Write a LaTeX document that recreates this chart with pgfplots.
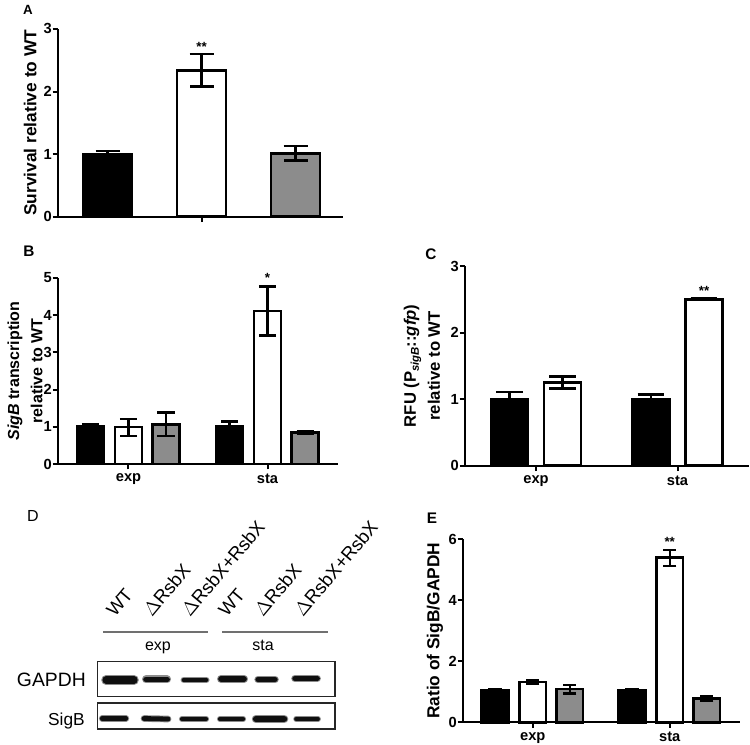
\documentclass[border=0pt]{standalone}
\usepackage{pgfplots}
\pgfplotsset{compat=1.18}
\usepackage{fontspec}
\setmainfont{Liberation Sans}
\definecolor{barGray}{RGB}{140,140,140}
\definecolor{lineGray}{RGB}{112,112,112}
\definecolor{band}{RGB}{15,15,15}
\pgfplotsset{
  panel/.style={
    scale only axis, axis x line=bottom, axis y line=left,
    axis line style={-, line width=1.5pt},
    tick style={line width=1.5pt, black}, tick align=outside, major tick length=4pt,
    ymin=0, ybar, clip=false,
    /pgf/number format/assume math mode=true,
    yticklabel={\pgfmathprintnumber{\tick}},
    yticklabel style={font=\fontsize{11}{12}\selectfont\bfseries, inner sep=0.5pt},
    xticklabel style={font=\fontsize{11}{12}\selectfont\bfseries},
    ylabel style={align=center, anchor=center},
    error bars/y dir=both, error bars/y explicit,
    error bars/error bar style={line width=1.8pt, black},
    error bars/error mark=|,
  },
  bk/.style={fill=black, draw=black, line width=2pt, bar shift=0pt},
  wh/.style={fill=white, draw=black, line width=2pt, bar shift=0pt},
  gr/.style={fill=barGray, draw=black, line width=2pt, bar shift=0pt},
  cap/.style={error bars/error mark options={line width=1.8pt, black, mark size=#1}},
  halo/.style={black!45, line width=#1, line cap=round, forget plot},
  core/.style={band, line width=#1, line cap=round, forget plot},
}
\newcommand{\stars}{\fontsize{10}{11}\selectfont\bfseries}
\begin{document}
\begin{tikzpicture}
\useasboundingbox (0,0) rectangle (562.5pt,-558pt);

% ---------------- Panel A
\begin{axis}[panel, at={(43.5pt,-162.5pt)}, anchor=south west,
  width=213.75pt, height=140.8pt, xmin=-0.527, xmax=2.505, ymax=3,
  ytick={0,1,2,3}, xtick={1}, xticklabels={}, bar width=0.52,
  ylabel={Survival relative to WT},
  ylabel style={at={(axis description cs:-0.098,0.5)}, font=\fontsize{13}{15}\selectfont\bfseries}, cap=9pt]
\addplot[bk] coordinates {(0,1.00) +- (0,0.05)};
\addplot[wh] coordinates {(1,2.34) +- (0,0.26)};
\addplot[gr] coordinates {(2,1.01) +- (0,0.115)};
\node[anchor=base, font=\stars] at (axis cs:1,2.64) {**};
\end{axis}

% ---------------- Panel B
\begin{axis}[panel, at={(43.5pt,-348pt)}, anchor=south west,
  width=210pt, height=139.7pt, xmin=-0.507, xmax=1.507, ymax=5,
  ytick={0,1,2,3,4,5}, xtick={0,1}, xticklabels={exp,sta}, bar width=0.194,
  ylabel={\textit{SigB} transcription\\[3pt]relative to WT},
  ylabel style={at={(axis description cs:-0.118,0.5)}, font=\fontsize{12}{14.5}\selectfont\bfseries}, cap=6.4pt]
\addplot[bk] coordinates {(-0.273,1.02) +- (0,0.05) (0.727,1.01) +- (0,0.13)};
\addplot[wh] coordinates {(0,0.99) += (0,0.22) -= (0,0.24) (1,4.11) += (0,0.65) -= (0,0.66)};
\addplot[gr] coordinates {(0.27,1.06) += (0,0.32) -= (0,0.31) (1.27,0.85) +- (0,0.03)};
\node[anchor=base, font=\stars] at (axis cs:1,4.86) {*};
\end{axis}

% ---------------- Panel C
\begin{axis}[panel, at={(348.75pt,-349.3pt)}, anchor=south west,
  width=213pt, height=149.8pt, xmin=-0.502, xmax=1.505, ymax=3,
  ytick={0,1,2,3}, xtick={0,1}, xticklabels={exp,sta}, bar width=0.26,
  ylabel={RFU (P\raisebox{-0.35ex}{\fontsize{8.5}{9}\selectfont\textit{sigB}}::\textit{gfp})\\[3pt]relative to WT},
  ylabel style={at={(axis description cs:-0.152,0.5)}, font=\fontsize{12.5}{15}\selectfont\bfseries}, cap=10pt]
\addplot[bk] coordinates {(-0.187,1.00) +- (0,0.11) (0.813,1.00) +- (0,0.07)};
\addplot[wh] coordinates {(0.187,1.25) +- (0,0.09) (1.187,2.50) +- (0,0.015)};
\node[anchor=base, font=\stars] at (axis cs:1.187,2.55) {**};
\end{axis}

% ---------------- Panel E
\begin{axis}[panel, at={(347.25pt,-541.7pt)}, anchor=south west,
  width=207.75pt, height=137.25pt, xmin=-0.509, xmax=1.513, ymax=6,
  ytick={0,2,4,6}, xtick={0,1}, xticklabels={exp,sta}, bar width=0.194,
  ylabel={Ratio of SigB/GAPDH},
  ylabel style={at={(axis description cs:-0.101,0.5)}, font=\fontsize{13}{15}\selectfont\bfseries}, cap=5pt]
\addplot[bk] coordinates {(-0.275,1.04) +- (0,0.04) (0.725,1.04) +- (0,0.04)};
\addplot[wh] coordinates {(0,1.32) +- (0,0.05) (1,5.40) += (0,0.25) -= (0,0.27)};
\addplot[gr] coordinates {(0.27,1.09) += (0,0.13) -= (0,0.15) (1.27,0.78) += (0,0.08) -= (0,0.08)};
\node[anchor=base, font=\stars] at (axis cs:1,5.75) {**};
\end{axis}

% ---------------- Panel D (western blot)
\begin{axis}[scale only axis, hide axis, clip=false,
  at={(73.3pt,-546.75pt)}, anchor=south west, width=178pt, height=50.5pt,
  xmin=97.7, xmax=335, ymin=0, ymax=67.3]
\draw[line width=0.9pt, black!85] (axis cs:97.7,32.3) rectangle (axis cs:335,67.3);
\draw[line width=0.9pt, black!85] (axis cs:97.7,0) rectangle (axis cs:335,26);
% GAPDH bands
\addplot[halo=7.2pt] coordinates {(106,49) (134,49)};
\addplot[core=5.4pt] coordinates {(106,49) (134,49)};
\addplot[halo=6pt] coordinates {(146,49.5) (167,49.5)};
\addplot[core=4.3pt] coordinates {(146,49.5) (167,49.5)};
\addplot[halo=5.2pt] coordinates {(184,49) (206,49)};
\addplot[core=3.6pt] coordinates {(184,49) (206,49)};
\addplot[halo=6pt] coordinates {(221,50) (244,50)};
\addplot[core=4.3pt] coordinates {(221,50) (244,50)};
\addplot[halo=5.6pt] coordinates {(258,49.5) (275,49.5)};
\addplot[core=4pt] coordinates {(258,49.5) (275,49.5)};
\addplot[halo=5.8pt] coordinates {(295,50.5) (317,50.5)};
\addplot[core=4.2pt] coordinates {(295,50.5) (317,50.5)};
% SigB bands
\addplot[halo=4.6pt] coordinates {(102,10.5) (126,10.5)};
\addplot[core=3.2pt] coordinates {(102,10.5) (126,10.5)};
\addplot[halo=5pt] coordinates {(144,10.5) (168,10)};
\addplot[core=3.6pt] coordinates {(144,10.5) (168,10)};
\addplot[halo=4.6pt] coordinates {(182,10) (206,10)};
\addplot[core=3.2pt] coordinates {(182,10) (206,10)};
\addplot[halo=4.6pt] coordinates {(220,10) (243,10)};
\addplot[core=3.2pt] coordinates {(220,10) (243,10)};
\addplot[halo=6.4pt] coordinates {(256,10) (284,10)};
\addplot[core=4.8pt] coordinates {(256,10) (284,10)};
\addplot[halo=4.2pt] coordinates {(296,10) (318,10)};
\addplot[core=2.8pt] coordinates {(296,10) (318,10)};
\end{axis}

% labels of panel D
\begin{scope}[every node/.style={font=\fontsize{14}{16}\selectfont, rotate=50, anchor=base west, inner sep=0pt}]
\node at (86.25pt,-463.5pt) {WT};
\node at (114pt,-463.5pt) {$\Delta$RsbX};
\node at (142.5pt,-463.5pt) {$\Delta$RsbX+RsbX};
\node at (170.25pt,-463.5pt) {WT};
\node at (197.25pt,-463.5pt) {$\Delta$RsbX};
\node at (227.25pt,-463.5pt) {$\Delta$RsbX+RsbX};
\end{scope}
\draw[lineGray, line width=1.5pt] (77.25pt,-473.8pt) -- (156pt,-473.8pt);
\draw[lineGray, line width=1.5pt] (166.5pt,-473.8pt) -- (246pt,-473.8pt);
\node[anchor=base, font=\fontsize{12}{14}\selectfont] at (118.5pt,-487.5pt) {exp};
\node[anchor=base, font=\fontsize{12}{14}\selectfont] at (197.25pt,-487.5pt) {sta};
\node[anchor=base east, inner sep=0pt, font=\fontsize{14.5}{16}\selectfont] at (64.5pt,-515pt) {GAPDH};
\node[anchor=base east, inner sep=0pt, font=\fontsize{13}{15}\selectfont] at (63.75pt,-543.75pt) {SigB};

% panel letters
\node[font=\fontsize{10}{12}\selectfont\bfseries] at (21pt,-7.1pt) {A};
\node[font=\fontsize{11.5}{13}\selectfont\bfseries] at (21.75pt,-188.25pt) {B};
\node[font=\fontsize{11.5}{13}\selectfont\bfseries] at (323.25pt,-190.5pt) {C};
\node[font=\fontsize{12}{14}\selectfont] at (24.75pt,-387pt) {D};
\node[font=\fontsize{11.5}{13}\selectfont\bfseries] at (324pt,-388.5pt) {E};
\end{tikzpicture}
\end{document}
